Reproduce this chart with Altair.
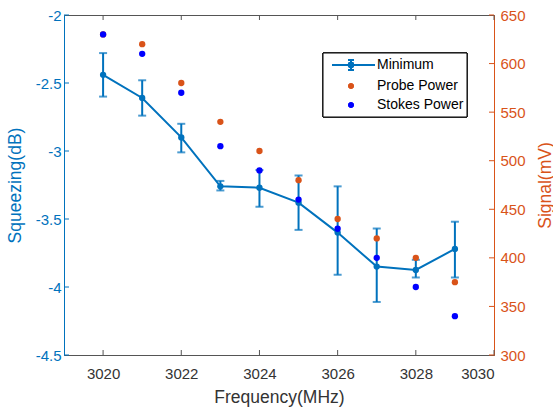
import altair as alt
import pandas as pd

freq = [3020, 3021, 3022, 3023, 3024, 3025, 3026, 3027, 3028, 3029]
minimum = [-2.44, -2.61, -2.90, -3.26, -3.27, -3.38, -3.60, -3.85, -3.875, -3.72]
err_hi = [-2.28, -2.48, -2.80, -3.22, -3.14, -3.18, -3.26, -3.57, -3.80, -3.52]
err_lo = [-2.60, -2.74, -3.01, -3.29, -3.41, -3.58, -3.91, -4.11, -3.93, -3.93]
probe = [630, 620, 580, 540, 510, 480, 440, 420, 400, 375]
stokes = [630, 610, 570, 515, 490, 460, 430, 400, 370, 340]

x_ticks = [3020, 3022, 3024, 3026, 3028, 3030]
left_ticks = [-4.5, -4, -3.5, -3, -2.5, -2]
right_ticks = [300, 350, 400, 450, 500, 550, 600, 650]

legend_labels = ["Minimum", "Probe Power", "Stokes Power"]

BLUE = "#0072BD"
ORANGE = "#D95319"
PURE_BLUE = "#0000FF"
FONT = "Liberation Sans"

W, H = 430, 340

df = pd.DataFrame({"f": freq, "m": minimum, "hi": err_hi, "lo": err_lo,
                   "probe": probe, "stokes": stokes})
xt = pd.DataFrame({"t": x_ticks})
lt = pd.DataFrame({"t": left_ticks})
rt = pd.DataFrame({"t": right_ticks})

xscale = alt.Scale(domain=[3019, 3030], nice=False, zero=False)
lscale = alt.Scale(domain=[-4.5, -2], nice=False, zero=False)
rscale = alt.Scale(domain=[300, 650], nice=False, zero=False)

xaxis = alt.Axis(values=x_ticks, format="d", tickSize=0, labelPadding=11,
                 labelFontSize=15, labelColor="#333333", labelFont=FONT,
                 domainColor="#555555", title="Frequency(MHz)",
                 titleFontSize=17.5, titleFontWeight="normal", titleColor="#333333",
                 titleFont=FONT, titleX=W / 2, titleY=42,
                 titleBaseline="middle", titleAlign="center", grid=False)

X = alt.X("f:Q", scale=xscale, axis=xaxis)

base = alt.Chart(df)

line = base.mark_line(color=BLUE, strokeWidth=2).encode(
    x=X,
    y=alt.Y("m:Q", scale=lscale,
            axis=alt.Axis(values=left_ticks, tickSize=0, labelPadding=3,
                          labelExpr="toString(datum.value)",
                          labelFontSize=15, labelColor=BLUE, labelFont=FONT,
                          domainColor=BLUE, title="Squeezing(dB)",
                          titleFontSize=17.5, titleFontWeight="normal",
                          titleColor=BLUE, titleFont=FONT, titleX=-49,
                          titleY=H / 2, titleAngle=270, titleBaseline="middle",
                          titleAlign="center", grid=False)))
err = base.mark_rule(color=BLUE, strokeWidth=2).encode(
    x="f:Q", y="lo:Q", y2="hi:Q")
cap_hi = base.mark_tick(color=BLUE, orient="horizontal", size=8, thickness=2).encode(
    x="f:Q", y="hi:Q")
cap_lo = base.mark_tick(color=BLUE, orient="horizontal", size=8, thickness=2).encode(
    x="f:Q", y="lo:Q")
pts = base.mark_circle(color=BLUE, size=40, opacity=1).encode(x="f:Q", y="m:Q")

lticks = alt.Chart(lt).mark_rule(color=BLUE).encode(
    y="t:Q", x=alt.value(0), x2=alt.value(5))
bticks = alt.Chart(xt).mark_rule(color="#555555").encode(
    x="t:Q", y=alt.value(H), y2=alt.value(H - 5))
tticks = alt.Chart(xt).mark_rule(color="#555555").encode(
    x="t:Q", y=alt.value(0), y2=alt.value(5))

left = alt.layer(line, err, cap_hi, cap_lo, pts, lticks, bticks, tticks)

probe_pts = base.mark_circle(color=ORANGE, size=40, opacity=1).encode(
    x=X,
    y=alt.Y("probe:Q", scale=rscale,
            axis=alt.Axis(values=right_ticks, orient="right", tickSize=0,
                          labelPadding=6, labelFontSize=15, labelColor=ORANGE,
                          labelFont=FONT, domainColor=ORANGE,
                          title="Signal(mV)", titleFontSize=17.5,
                          titleFontWeight="normal", titleColor=ORANGE,
                          titleFont=FONT, titleX=51, titleY=H / 2,
                          titleAngle=270, titleBaseline="middle",
                          titleAlign="center", grid=False)))
stokes_pts = base.mark_circle(color=PURE_BLUE, size=40, opacity=1).encode(
    x="f:Q", y="stokes:Q")
rticks = alt.Chart(rt).mark_rule(color=ORANGE).encode(
    y="t:Q", x=alt.value(W), x2=alt.value(W - 5))

right = alt.layer(probe_pts, stokes_pts, rticks)

# legend (decoration)
leg_df = pd.DataFrame({"label": legend_labels})
leg_box = alt.Chart(leg_df).mark_rect(fill="white", stroke="black", strokeWidth=1).encode(
    x=alt.value(259), x2=alt.value(403), y=alt.value(38), y2=alt.value(102))
leg_line = alt.Chart(leg_df).mark_rule(color=BLUE, strokeWidth=2).encode(
    x=alt.value(268), x2=alt.value(311), y=alt.value(50))
leg_err = alt.Chart(leg_df).mark_rule(color=BLUE, strokeWidth=2).encode(
    x=alt.value(287), y=alt.value(45), y2=alt.value(55))
leg_cap1 = alt.Chart(leg_df).mark_rule(color=BLUE, strokeWidth=2).encode(
    x=alt.value(284), x2=alt.value(290), y=alt.value(45))
leg_cap2 = alt.Chart(leg_df).mark_rule(color=BLUE, strokeWidth=2).encode(
    x=alt.value(284), x2=alt.value(290), y=alt.value(55))
leg_pt1 = alt.Chart(leg_df).mark_circle(color=BLUE, size=40, opacity=1).encode(
    x=alt.value(287), y=alt.value(50))
leg_pt2 = alt.Chart(leg_df).mark_circle(color=ORANGE, size=30, opacity=1).encode(
    x=alt.value(287), y=alt.value(71))
leg_pt3 = alt.Chart(leg_df).mark_circle(color=PURE_BLUE, size=30, opacity=1).encode(
    x=alt.value(287), y=alt.value(90))

leg_texts = []
for lab, yy in zip(legend_labels, [50, 71, 90]):
    leg_texts.append(
        alt.Chart(leg_df).transform_filter(alt.datum.label == lab)
        .mark_text(align="left", baseline="middle", fontSize=14, font=FONT,
                   color="black")
        .encode(x=alt.value(313), y=alt.value(yy), text="label:N"))

legend = alt.layer(leg_box, leg_line, leg_err, leg_cap1, leg_cap2, leg_pt1,
                   leg_pt2, leg_pt3, *leg_texts)

chart = alt.layer(left, right, legend).resolve_scale(y="independent").properties(
    width=W, height=H,
    autosize=alt.AutoSizeParams(type="none"),
    padding={"left": 64, "top": 15, "right": 59, "bottom": 57},
    background="white",
).configure_view(stroke="#555555", strokeWidth=1)

chart.save("out.html", embed_options={"renderer": "svg", "actions": False})
